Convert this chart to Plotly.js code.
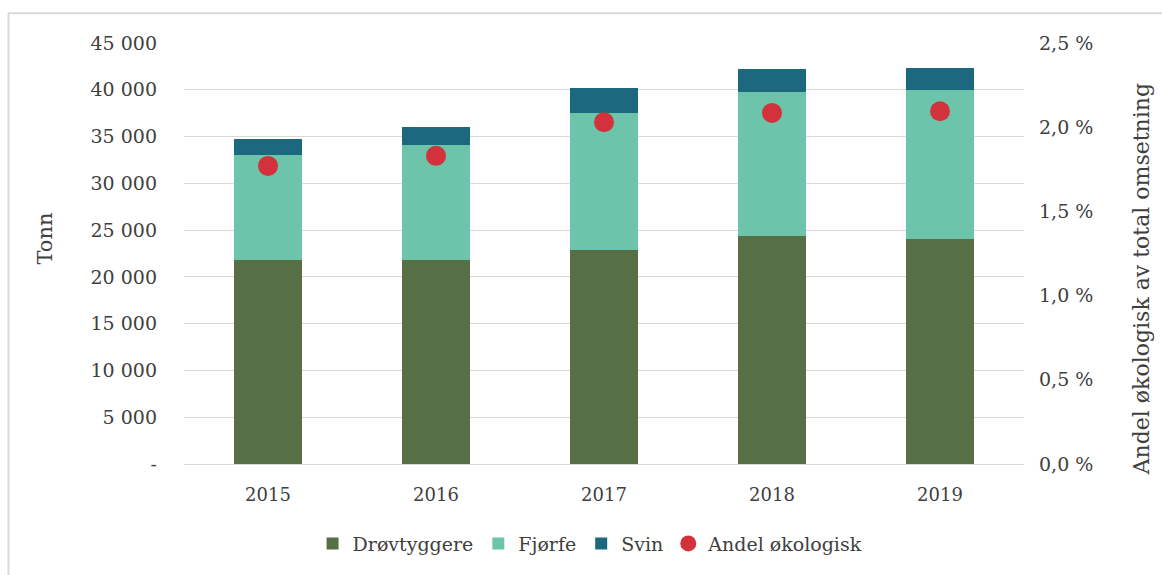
<!DOCTYPE html>
<html>
<head>
<meta charset="utf-8">
<script src="https://cdn.plot.ly/plotly-3.0.1.min.js"></script>
<style>html,body{margin:0;padding:0;background:#fff;}#chart{width:1162px;height:575px;}</style>
</head>
<body>
<div id="chart"></div>
<script>
const years = ["2015", "2016", "2017", "2018", "2019"];
const drovtyggere = [21800, 21800, 22900, 24350, 24100];
const fjorfe = [11200, 12300, 14600, 15450, 15850];
const svin = [1700, 1900, 2700, 2400, 2350];
const andelOkologisk = [1.77, 1.83, 2.03, 2.085, 2.095];

const leftTickVals = [0, 5000, 10000, 15000, 20000, 25000, 30000, 35000, 40000, 45000];
const leftTickText = ["-", "5 000", "10 000", "15 000", "20 000", "25 000", "30 000", "35 000", "40 000", "45 000"];
const rightTickVals = [0, 0.5, 1.0, 1.5, 2.0, 2.5];
const rightTickText = ["0,0 %", "0,5 %", "1,0 %", "1,5 %", "2,0 %", "2,5 %"];
const leftTitle = "Tonn";
const rightTitle = "Andel økologisk av total omsetning";

const FONT = "DejaVu Serif, Liberation Serif, serif";
const TXT = "#404040";

const data = [
  {type: "bar", name: "Drøvtyggere", x: years, y: drovtyggere, marker: {color: "#566f44"}},
  {type: "bar", name: "Fjørfe", x: years, y: fjorfe, marker: {color: "#6cc4aa"}},
  {type: "bar", name: "Svin", x: years, y: svin, marker: {color: "#1c687f"}},
  {type: "scatter", mode: "markers", name: "Andel økologisk", x: years, y: andelOkologisk, yaxis: "y2",
   marker: {color: "#d1323c", size: 20}}
];

const px = x => (x - 184) / 840;
const py = y => (467 - y) / 424;

const layout = {
  width: 1162, height: 575,
  margin: {l: 184, r: 138, t: 43, b: 108},
  paper_bgcolor: "#fff", plot_bgcolor: "#fff",
  barmode: "stack", bargap: 0.6,
  font: {family: FONT, color: TXT, size: 18},
  showlegend: true,
  legend: {orientation: "h", traceorder: "normal", x: 0.484, xanchor: "center", y: -0.189, yanchor: "middle",
           font: {family: FONT, size: 19, color: TXT}, itemwidth: 30, tracegroupgap: 0},
  xaxis: {type: "category", showgrid: false, zeroline: false, showline: true, linecolor: "#d9d9d9", linewidth: 1,
          ticks: "", tickfont: {family: FONT, size: 18, color: TXT}, ticklabelstandoff: 14},
  yaxis: {range: [0, 45000], tickvals: leftTickVals, ticktext: leftTickText, showgrid: true, gridcolor: "#d9d9d9",
          zeroline: false, ticks: "", tickfont: {family: FONT, size: 19, color: TXT}, ticklabelstandoff: 26},
  yaxis2: {range: [0, 2.5], overlaying: "y", side: "right", tickvals: rightTickVals, ticktext: rightTickText,
           showgrid: false, zeroline: false, ticks: "", tickfont: {family: FONT, size: 19, color: TXT}, ticklabelstandoff: 14},
  annotations: [
    {text: leftTitle, xref: "paper", yref: "paper", x: px(45), y: py(240), xanchor: "center", yanchor: "middle",
     textangle: -90, showarrow: false, font: {family: FONT, size: 21, color: TXT}},
    {text: rightTitle, xref: "paper", yref: "paper", x: px(1141), y: py(281), xanchor: "center", yanchor: "middle",
     textangle: -90, showarrow: false, font: {family: FONT, size: 22, color: TXT}}
  ],
  shapes: [
    {type: "line", xref: "paper", yref: "paper", x0: px(8.5), x1: px(8.5), y0: py(13), y1: py(580),
     line: {color: "#d9d9d9", width: 2}},
    {type: "line", xref: "paper", yref: "paper", x0: px(8), x1: px(1170), y0: py(13), y1: py(13),
     line: {color: "#d9d9d9", width: 2}}
  ]
};

Plotly.newPlot("chart", data, layout, {displayModeBar: false, responsive: false});
</script>
</body>
</html>
